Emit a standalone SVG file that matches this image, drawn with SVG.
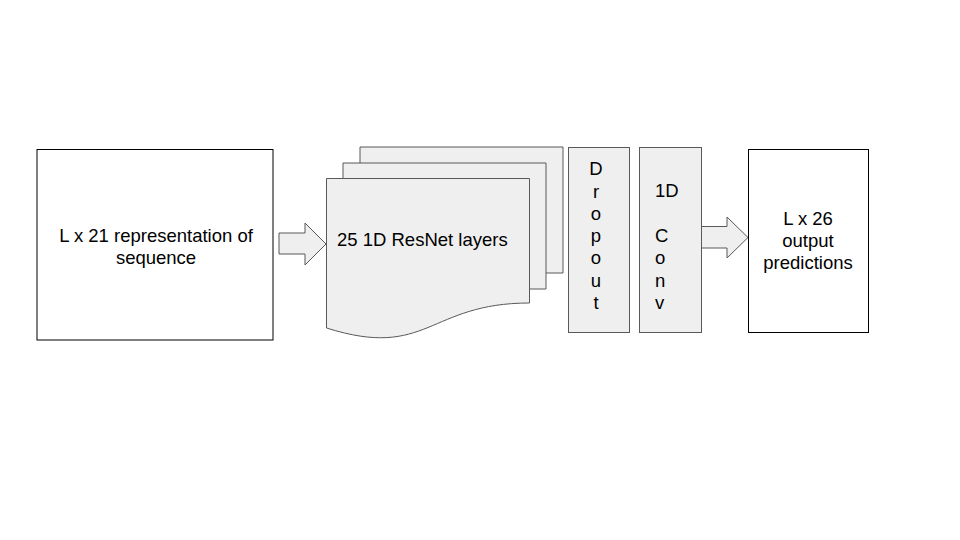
<svg xmlns="http://www.w3.org/2000/svg" width="960" height="540" viewBox="0 0 960 540">
<style>
text{font-family:"Liberation Sans",Arial,sans-serif;font-size:18.5px;fill:#000}
.box{fill:#fff;stroke:#000;stroke-width:1}
.g{fill:#efefef;stroke:#595959;stroke-width:1}
.c{text-anchor:middle}
</style>
<rect width="960" height="540" fill="#fff"/>
<g id="input">
<rect class="box" x="37" y="149.5" width="236" height="190.5"/>
<text class="c" x="156" y="242">L x 21 representation of</text>
<text class="c" x="156" y="263.5">sequence</text>
</g>
<g id="resnet">
<path class="g" d="M360,147 H563 V273 H360 Z"/>
<path class="g" d="M343,163 H546 V289 H343 Z"/>
<path class="g" d="M326.5,178.5 H529.5 V303 C428,303 428,360 326.5,328 Z"/>
<text x="337" y="246">25 1D ResNet layers</text>
</g>
<g id="dropout">
<rect class="g" x="568.5" y="147.5" width="61" height="185"/>
<text class="c" x="596" y="175">D</text>
<text class="c" x="596" y="198">r</text>
<text class="c" x="596" y="220">o</text>
<text class="c" x="596" y="242">p</text>
<text class="c" x="596" y="264">o</text>
<text class="c" x="596" y="286.5">u</text>
<text class="c" x="596" y="309">t</text>
</g>
<g id="conv">
<rect class="g" x="639.5" y="147.5" width="62" height="185"/>
<text x="655" y="197">1D</text>
<text x="655" y="242">C</text>
<text x="655" y="264">o</text>
<text x="655" y="286.5">n</text>
<text x="655" y="309">v</text>
</g>
<g id="output">
<rect class="box" x="748.5" y="149.5" width="120" height="183"/>
<text class="c" x="808" y="225">L x 26</text>
<text class="c" x="808" y="247">output</text>
<text class="c" x="808" y="268.5">predictions</text>
</g>
<g id="connectors">
<path class="g" d="M279,233 H305 V223 L326,244 L305,265 V254 H279 Z"/>
<path class="g" d="M701.5,226.5 H727 V217 L748,237.5 L727,258 V248 H701.5 Z"/>
</g>
</svg>
